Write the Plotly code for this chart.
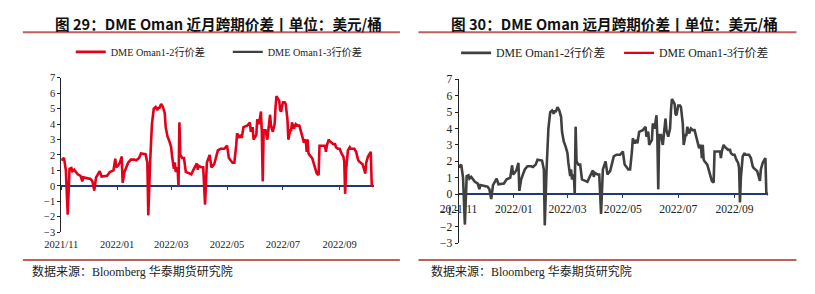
import plotly.graph_objects as go

# ---------------- data ----------------
dates = (
    ["2021-11-01", "2021-11-02", "2021-11-04", "2021-11-06", "2021-11-08", "2021-11-10", "2021-11-12",
     "2021-11-13", "2021-11-15", "2021-11-17", "2021-11-19", "2021-11-22", "2021-11-24", "2021-11-25",
     "2021-11-29"]
    + ["2021-12-03", "2021-12-05", "2021-12-07", "2021-12-09", "2021-12-13", "2021-12-15", "2021-12-19",
       "2021-12-21", "2021-12-24", "2021-12-28", "2021-12-30", "2021-12-31"]
    + ["2022-01-02", "2022-01-04", "2022-01-06", "2022-01-07", "2022-01-09", "2022-01-13", "2022-01-16",
       "2022-01-20", "2022-01-22", "2022-01-25", "2022-01-27"]
    + ["2022-02-01", "2022-02-03", "2022-02-04", "2022-02-06", "2022-02-08", "2022-02-10", "2022-02-12",
       "2022-02-14", "2022-02-15", "2022-02-16", "2022-02-18", "2022-02-20", "2022-02-22", "2022-02-23",
       "2022-02-25", "2022-02-27"]
    + ["2022-03-01", "2022-03-02", "2022-03-04", "2022-03-05", "2022-03-06", "2022-03-08", "2022-03-09",
       "2022-03-10", "2022-03-11", "2022-03-13", "2022-03-15", "2022-03-17", "2022-03-20", "2022-03-23",
       "2022-03-25", "2022-03-27", "2022-03-29", "2022-03-30", "2022-03-31"]
    + ["2022-04-03", "2022-04-05", "2022-04-07", "2022-04-09", "2022-04-12", "2022-04-14", "2022-04-17",
       "2022-04-21", "2022-04-24", "2022-04-28"]
    + ["2022-05-01", "2022-05-03", "2022-05-07", "2022-05-09", "2022-05-11", "2022-05-12", "2022-05-14",
       "2022-05-16", "2022-05-17", "2022-05-19", "2022-05-23", "2022-05-26", "2022-05-27", "2022-05-29",
       "2022-05-30"]
    + ["2022-06-02", "2022-06-03", "2022-06-05", "2022-06-07", "2022-06-08", "2022-06-09", "2022-06-10",
       "2022-06-12", "2022-06-14", "2022-06-17", "2022-06-18", "2022-06-20", "2022-06-22", "2022-06-23",
       "2022-06-24", "2022-06-27", "2022-06-28", "2022-06-29"]
    + ["2022-07-01", "2022-07-03", "2022-07-04", "2022-07-06", "2022-07-07", "2022-07-09", "2022-07-10",
       "2022-07-11", "2022-07-13", "2022-07-15", "2022-07-17", "2022-07-19", "2022-07-21", "2022-07-22",
       "2022-07-24", "2022-07-26", "2022-07-27", "2022-07-28", "2022-07-29", "2022-07-30"]
    + ["2022-08-02", "2022-08-05", "2022-08-07", "2022-08-09", "2022-08-10", "2022-08-12", "2022-08-16",
       "2022-08-17", "2022-08-18", "2022-08-20", "2022-08-21", "2022-08-23", "2022-08-25", "2022-08-27",
       "2022-08-28", "2022-08-30"]
    + ["2022-09-01", "2022-09-03", "2022-09-05", "2022-09-06", "2022-09-07", "2022-09-08", "2022-09-10",
       "2022-09-12", "2022-09-13", "2022-09-17", "2022-09-19", "2022-09-21", "2022-09-22", "2022-09-26",
       "2022-09-28", "2022-09-29", "2022-09-30"]
    + ["2022-10-02", "2022-10-04", "2022-10-05", "2022-10-06", "2022-10-08"]
)

spread = (
    [1.75, 1.7, 1.8, 1.0, -1.85, 1.1, 1.15, 0.95, 1.05, 0.9, 0.75, 0.65, 0.3, 0.55, 0.5]
    + [0.45, 0.3, -0.3, 0.55, 0.95, 0.6, 0.65, 0.65, 0.9, 1.0, 1.75, 1.2]
    + [1.3, 1.5, 1.9, 0.2, 0.9, 1.5, 1.7, 1.7, 1.65, 1.8, 2.1]
    + [2.05, 1.5, -1.9, 1.5, 4.0, 5.0, 5.1, 4.9, 5.1, 5.0, 5.3, 5.1, 4.7, 3.8, 3.2, 2.9]
    + [2.5, 1.9, 1.1, 1.5, 0.9, 1.2, 0.0, 4.1, 2.0, 1.8, 1.8, 0.9, 0.8, 0.75, 1.0, 1.2, 1.45, 1.05, 1.3]
    + [1.2, 1.2, -1.2, 1.5, 2.0, 1.2, 1.4, 2.3, 2.4, 2.4]
    + [2.6, 1.8, 1.5, 1.5, 2.6, 3.4, 3.1, 3.3, 3.1, 3.8, 3.9, 4.1, 3.5, 3.8, 3.0]
    + [3.3, 4.3, 4.0, 4.8, 3.5, 0.3, 3.6, 3.6, 3.0, 4.6, 3.9, 3.5, 4.0, 5.1, 5.8, 5.5, 4.9, 4.8]
    + [5.4, 5.4, 5.3, 4.3, 3.0, 3.6, 3.6, 4.1, 3.7, 4.0, 3.9, 3.9, 3.5, 3.3, 2.8, 3.0, 2.2, 3.0, 2.1, 2.0]
    + [1.8, 1.2, 0.8, 0.7, 2.6, 2.6, 2.6, 2.2, 2.6, 3.0, 2.9, 2.8, 2.7, 2.7, 2.5, 2.4]
    + [2.4, 2.1, 1.9, 1.6, -0.5, 1.0, 2.3, 2.5, 2.4, 2.4, 2.2, 1.7, 1.6, 1.4, 1.0, 0.8, 1.5]
    + [1.9, 2.1, 2.2, 0.1, -0.05]
)
assert len(dates) == len(spread)

tick_dates = ["2021-11-01", "2022-01-01", "2022-03-01", "2022-05-01", "2022-07-01", "2022-09-01"]
tick_labels = ["2021/11", "2022/01", "2022/03", "2022/05", "2022/07", "2022/09"]

name_12 = "DME Oman1-2行价差"
name_13 = "DME Oman1-3行价差"
title_left = "图 29：DME Oman 近月跨期价差丨单位：美元/桶"
title_right = "图 30：DME Oman 远月跨期价差丨单位：美元/桶"
source_text = "数据来源：Bloomberg 华泰期货研究院"

# ---------------- style ----------------
W, H = 815, 294
RED = "#E2001A"
GRAY = "#404040"
NAVY = "#1F3A78"
RULE = "#C0605C"
SERIF = "Liberation Serif, Noto Sans CJK SC, serif"
CJK = "Noto Sans CJK SC, sans-serif"
x_range = ["2021-11-01", "2022-10-08"]
y_range = [-3, 7]


def fx(p):
    return p / W


def fy(p):
    return 1 - p / H


ldom = [fy(236.7), fy(75)]
rdom = [fy(248.3), fy(76.7)]


def zero_pos(dom):
    return dom[0] + (0 - y_range[0]) / (y_range[1] - y_range[0]) * (dom[1] - dom[0])


fig = go.Figure()


def add_pair(xa, ya, leg, top_name, top_color, low_name, low_color):
    # series hidden underneath (thin so it does not bleed past the visible line)
    fig.add_trace(go.Scatter(x=dates, y=spread, name=low_name, mode="lines",
                             line=dict(color=low_color, width=1.0), xaxis=xa, yaxis=ya,
                             showlegend=False, legend=leg))
    # legend key for the hidden series
    fig.add_trace(go.Scatter(x=[None], y=[None], name=low_name, mode="lines",
                             line=dict(color=low_color, width=2.4), xaxis=xa, yaxis=ya,
                             legend=leg, legendrank=2))
    # visible series on top
    fig.add_trace(go.Scatter(x=dates, y=spread, name=top_name, mode="lines",
                             line=dict(color=top_color, width=2.6), xaxis=xa, yaxis=ya,
                             legend=leg, legendrank=1))


add_pair("x", "y", "legend", name_12, RED, name_13, GRAY)
add_pair("x2", "y2", "legend2", name_12, GRAY, name_13, RED)

common_x = dict(type="date", range=x_range, anchor="free", showline=True, linecolor=NAVY,
                linewidth=1.5, ticks="outside", ticklen=3, tickcolor=NAVY, tickwidth=1,
                tickvals=tick_dates, ticktext=tick_labels, showgrid=False, zeroline=False,
                layer="below traces", fixedrange=True)
common_y = dict(range=y_range, dtick=1, tick0=0, showline=True, linecolor="#222", linewidth=1,
                ticks="outside", ticklen=3, tickcolor="#222", showgrid=False, zeroline=False,
                fixedrange=True)

fig.update_layout(
    width=W, height=H,
    margin=dict(l=0, r=0, t=0, b=0),
    paper_bgcolor="white", plot_bgcolor="white",
    showlegend=True,
    xaxis=dict(common_x, domain=[fx(43.3), fx(363)], position=zero_pos(ldom),
               tickfont=dict(family=SERIF, size=10.5, color="#222"), ticklabelstandoff=46),
    yaxis=dict(common_y, domain=ldom, anchor="x",
               tickfont=dict(family=SERIF, size=10.5, color="#222")),
    xaxis2=dict(common_x, domain=[fx(450), fx(767)], position=zero_pos(rdom),
                tickfont=dict(family=SERIF, size=11.6, color="#222"), ticklabelstandoff=1),
    yaxis2=dict(common_y, domain=rdom, anchor="x2",
                tickfont=dict(family=SERIF, size=11.6, color="#222")),
    legend=dict(orientation="h", x=fx(53), y=fy(48), xanchor="left", yanchor="middle",
                font=dict(family=SERIF, size=10.2, color="#222"), bgcolor="rgba(0,0,0,0)",
                entrywidth=112, traceorder="normal"),
    legend2=dict(orientation="h", x=fx(447.5), y=fy(49), xanchor="left", yanchor="middle",
                 font=dict(family=SERIF, size=11.8, color="#222"), bgcolor="rgba(0,0,0,0)",
                 entrywidth=118, traceorder="normal"),
)

# titles
for x0, txt in [(35, title_left), (440, title_right)]:
    fig.add_annotation(x=fx(x0), y=fy(18), xref="paper", yref="paper", text=txt,
                       showarrow=False, xanchor="left", yanchor="middle",
                       font=dict(family=CJK, size=14.6, color="#111", weight="bold"))
# sources
for x0 in [11, 420]:
    fig.add_annotation(x=fx(x0), y=fy(278), xref="paper", yref="paper", text=source_text,
                       showarrow=False, xanchor="left", yanchor="middle",
                       font=dict(family=SERIF, size=12, color="#222"))
# rules under titles and above sources
for (xa, xb) in [(4, 390), (409, 796)]:
    for yy in [27.5, 265.7]:
        fig.add_shape(type="line", xref="paper", yref="paper", x0=fx(xa), x1=fx(xb),
                      y0=fy(yy), y1=fy(yy), line=dict(color=RULE, width=2))

fig.write_html("out.html")
